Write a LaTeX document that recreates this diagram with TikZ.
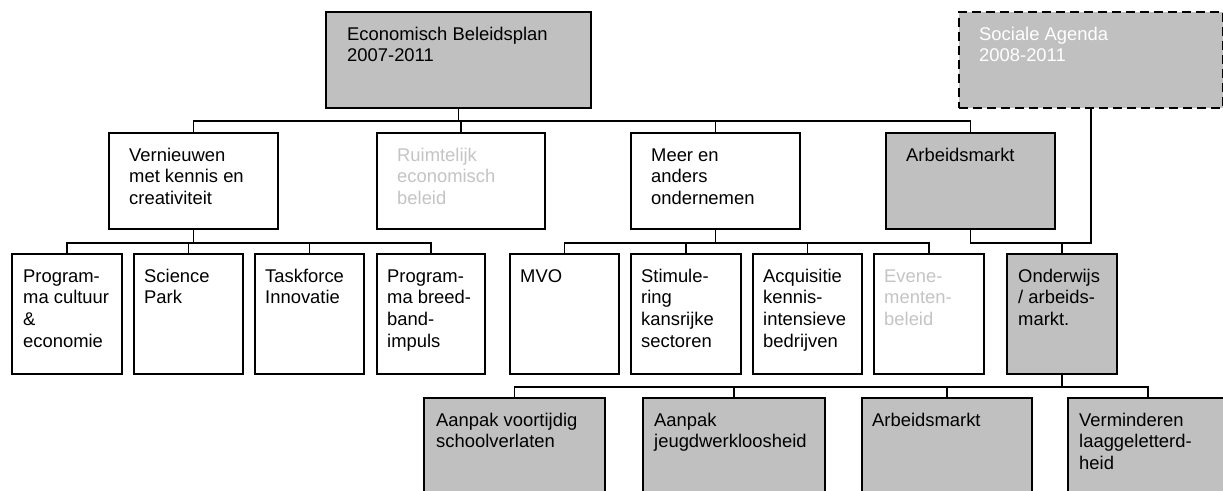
\documentclass[tikz,border=0pt]{standalone}
\usepackage{fontspec}
\setmainfont{Liberation Sans}
\definecolor{boxgray}{RGB}{192,192,192}
\definecolor{txtgray}{RGB}{196,196,196}
\tikzset{
  box/.style={draw=black, line width=1.8pt, rectangle, inner sep=0pt, anchor=north west},
  grayfill/.style={fill=boxgray},
  whitefill/.style={fill=white},
  dashbox/.style={fill=boxgray, dash pattern=on 9pt off 5pt},
  txt/.style={inner sep=0pt, anchor=base west, font=\fontsize{18.4}{21.7}\selectfont},
  conn/.style={draw=black, line width=1.8pt},
}
\newcommand\orgbox[9]{%
  \node[box,#6,minimum width=#4pt,minimum height=#5pt] (#1) at (#2,#3) {};
  \node[txt,#7] (#1t) at ([shift={(#8,29)}]#1.north west) {\parbox[t]{300pt}{\raggedright #9}};
}
\begin{document}
\begin{tikzpicture}[x=1pt,y=-1pt]
\clip (0,0) rectangle (1223,490);
\fill[white] (0,0) rectangle (1223,490);
% top row
\orgbox{main}{325}{11}{265}{96}{grayfill}{}{22}{Economisch Beleidsplan\\2007-2011}
\orgbox{soc}{958}{11}{264}{96}{dashbox}{text=white}{21}{Sociale Agenda\\2008-2011}
% second row
\orgbox{vern}{108}{132}{169}{96}{whitefill}{}{21}{Vernieuwen\\met kennis en\\creativiteit}
\orgbox{ruim}{376}{132}{168}{96}{whitefill}{text=txtgray}{21}{Ruimtelijk\\economisch\\beleid}
\orgbox{meer}{630}{132}{169}{96}{whitefill}{}{21}{Meer en\\anders\\ondernemen}
\orgbox{arb}{885}{132}{169}{96}{grayfill}{}{21}{Arbeidsmarkt}
% third row
\orgbox{cult}{11}{253}{110}{120}{whitefill}{}{12}{Program-\\ma cultuur\\\&\\economie}
\orgbox{sci}{133}{253}{109}{120}{whitefill}{}{11}{Science\\Park}
\orgbox{task}{254}{253}{109}{120}{whitefill}{}{11}{Taskforce\\Innovatie}
\orgbox{breed}{376}{253}{108}{120}{whitefill}{}{11}{Program-\\ma breed-\\band-\\impuls}
\orgbox{mvo}{509}{253}{109}{120}{whitefill}{}{11}{MVO}
\orgbox{stim}{630}{253}{110}{120}{whitefill}{}{11}{Stimule-\\ring\\kansrijke\\sectoren}
\orgbox{acq}{752}{253}{109}{120}{whitefill}{}{11}{Acquisitie\\kennis-\\intensieve\\bedrijven}
\orgbox{even}{873}{253}{110}{120}{whitefill}{text=txtgray}{11}{Evene-\\menten-\\beleid}
\orgbox{ond}{1006}{253}{110}{120}{grayfill}{}{12}{Onderwijs\\/ arbeids-\\markt.}
% bottom row
\orgbox{voort}{423}{397}{181}{115}{grayfill}{}{13}{Aanpak voortijdig\\schoolverlaten}
\orgbox{jeugd}{642}{397}{182}{115}{grayfill}{}{12}{Aanpak\\jeugdwerkloosheid}
\orgbox{arb2}{861}{397}{170}{115}{grayfill}{}{11}{Arbeidsmarkt}
\orgbox{verm}{1067}{397}{160}{115}{grayfill}{}{12}{Verminderen\\laaggeletterd-\\heid}
% connectors
\foreach \c in {vern,ruim,meer,arb}
  \draw[conn] (main.south) -- ++(0,12) -| (\c.north);
\foreach \c in {cult,sci,task,breed}
  \draw[conn] (vern.south) -- ++(0,13) -| (\c.north);
\foreach \c in {mvo,stim,acq,even}
  \draw[conn] (meer.south) -- ++(0,13) -| (\c.north);
\draw[conn] (arb.south) -- ++(0,13) -| (ond.north);
\draw[conn] (soc.south) -- ++(0,134) -| (ond.north);
\foreach \c in {voort,jeugd,arb2,verm}
  \draw[conn] (ond.south) -- ++(0,12) -| (\c.north);
\end{tikzpicture}
\end{document}
